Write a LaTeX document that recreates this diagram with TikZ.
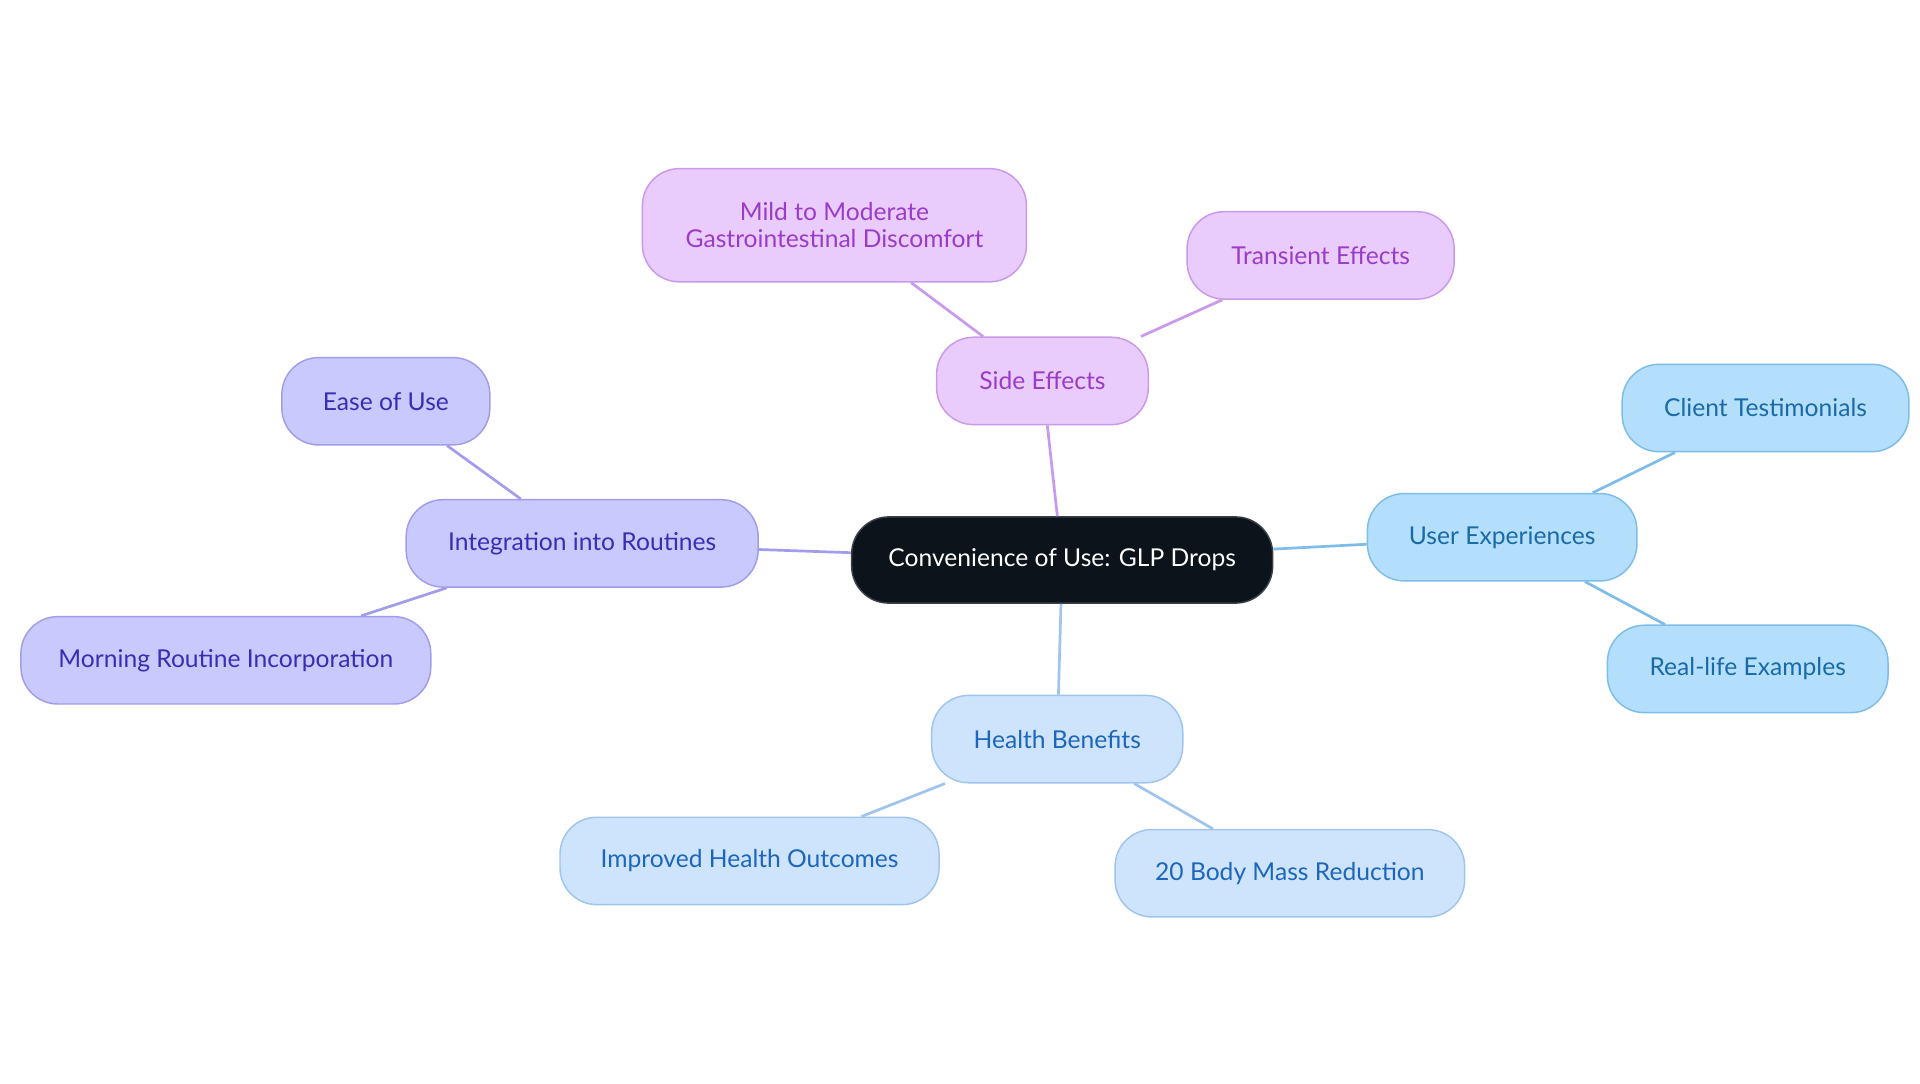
\documentclass[tikz,border=0pt]{standalone}
\usepackage{fontspec}
\setmainfont{Lato}
\definecolor{cfill}{HTML}{0D131B}
\definecolor{cdraw}{HTML}{3A4048}
\definecolor{pfill}{HTML}{E9CBFC}
\definecolor{pdraw}{HTML}{C99AEC}
\definecolor{ptext}{HTML}{9A3CC8}
\definecolor{ifill}{HTML}{C8C9FC}
\definecolor{idraw}{HTML}{A19DEC}
\definecolor{itext}{HTML}{3A2DB4}
\definecolor{sfill}{HTML}{B3DEFC}
\definecolor{sdraw}{HTML}{7EBDEA}
\definecolor{stext}{HTML}{196AA6}
\definecolor{bfill}{HTML}{CDE4FC}
\definecolor{bdraw}{HTML}{9FC5EE}
\definecolor{btext}{HTML}{1D66BD}
\tikzset{
  box/.style={rounded corners=30pt, line width=1.2pt, minimum height=71pt, inner sep=0pt, align=center, font=\fontsize{20}{22}\selectfont},
  centerbox/.style={box, fill=cfill, draw=cdraw, text=white},
  pbox/.style={box, fill=pfill, draw=pdraw, text=ptext},
  ibox/.style={box, fill=ifill, draw=idraw, text=itext},
  sbox/.style={box, fill=sfill, draw=sdraw, text=stext},
  bbox/.style={box, fill=bfill, draw=bdraw, text=btext},
  link/.style={line width=2.2pt},
}
\begin{document}
\begin{tikzpicture}[x=1pt,y=-1pt]
\useasboundingbox (0,0) rectangle (1560,880);
\node[centerbox, minimum width=342pt, minimum height=70pt] (c) at (863,455) {Convenience of Use: GLP Drops};
\node[pbox, minimum width=172pt] (se) at (847,309.5) {Side Effects};
\node[pbox, minimum width=312pt, minimum height=92pt] (mild) at (678,183) {Mild to Moderate\\Gastrointestinal Discomfort};
\node[pbox, minimum width=217pt] (tr) at (1073,207.5) {Transient Effects};
\node[ibox, minimum width=286pt] (ir) at (473,441.5) {Integration into Routines};
\node[ibox, minimum width=169pt] (eu) at (313.5,326) {Ease of Use};
\node[ibox, minimum width=333pt] (mr) at (183.5,536.5) {Morning Routine Incorporation};
\node[sbox, minimum width=219pt] (ue) at (1220.5,436.5) {User Experiences};
\node[sbox, minimum width=233pt] (ct) at (1434.5,331.5) {Client Testimonials};
\node[sbox, minimum width=228pt] (rl) at (1420,543.5) {Real-life Examples};
\node[bbox, minimum width=204pt] (hb) at (859,600.5) {Health Benefits};
\node[bbox, minimum width=308pt] (ih) at (609,699.5) {Improved Health Outcomes};
\node[bbox, minimum width=284pt] (bm) at (1048,709.5) {20 Body Mass Reduction};
\draw[link, pdraw] (c) -- (se);
\draw[link, pdraw] (se) -- (mild);
\draw[link, pdraw] (se) -- (tr);
\draw[link, idraw] (c) -- (ir);
\draw[link, idraw] (ir) -- (eu);
\draw[link, idraw] (ir) -- (mr);
\draw[link, sdraw] (c) -- (ue);
\draw[link, sdraw] (ue) -- (ct);
\draw[link, sdraw] (ue) -- (rl);
\draw[link, bdraw] (c) -- (hb);
\draw[link, bdraw] (hb) -- (ih);
\draw[link, bdraw] (hb) -- (bm);
\end{tikzpicture}
\end{document}
